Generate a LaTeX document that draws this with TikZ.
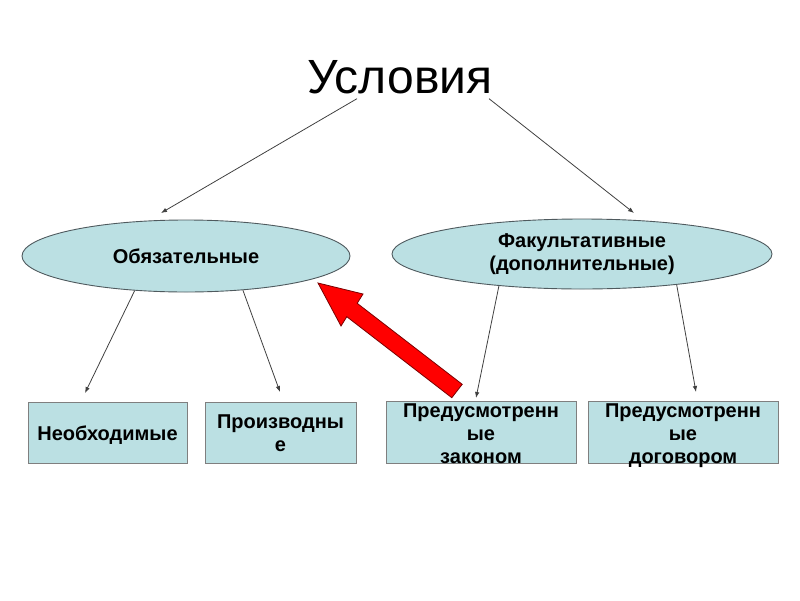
\documentclass[tikz,border=0pt]{standalone}
\usepackage{fontspec}
\setmainfont{Liberation Sans}
\usetikzlibrary{shapes.geometric,arrows.meta,calc}
\definecolor{fillblue}{HTML}{BBE0E3}
\definecolor{edgegray}{HTML}{4F5A5E}
\definecolor{boxgray}{HTML}{7F7F7F}
\definecolor{connc}{HTML}{404040}
\definecolor{arrred}{HTML}{FF0000}
\definecolor{arrdark}{HTML}{7A0000}
\begin{document}
\begin{tikzpicture}[x=1pt,y=-1pt,
  ell/.style={ellipse,draw=edgegray,fill=fillblue,line width=0.9pt,inner sep=0pt,align=center,
    font=\bfseries\fontsize{20}{23}\selectfont},
  boxr/.style={rectangle,draw=boxgray,fill=fillblue,line width=0.9pt,inner sep=0pt},
  boxtxt/.style={inner sep=0pt,align=center,font=\bfseries\fontsize{20}{23}\selectfont},
  conn/.style={draw=connc,line width=0.8pt,-{Latex[length=6pt,width=4.5pt]}},
  bigarrow/.style={fill=arrred,draw=arrdark,line width=0.8pt,line join=miter}
]
\useasboundingbox (0,0) rectangle (800,600);

% title
\node[anchor=base,inner sep=0pt,font=\fontsize{48}{52}\selectfont] (title) at (400,93) {Условия};

% ellipses
\node[ell,minimum width=328pt,minimum height=72pt] (obl) at (186,256) {Обязательные};
\node[ell,minimum width=380pt,minimum height=70pt] (fak) at (582,254) {Факультативные\\(дополнительные)};

% boxes
\node[boxr,minimum width=159pt,minimum height=61pt] (b1) at (107.5,432.5) {};
\node[boxtxt] (b1t) at ($(b1.center)+(0,3.5)$) {\strut Необходимые};
\node[boxr,minimum width=151pt,minimum height=61pt] (b2) at (280.5,432.5) {};
\node[boxtxt] (b2t) at ($(b2.center)+(0,3)$) {\strut Производны\\е\strut};
\node[boxr,minimum width=190pt,minimum height=62pt] (b3) at (481,432) {};
\node[boxtxt] (b3t) at ($(b3.center)+(0,3.5)$) {\strut Предусмотренн\\ые\\законом\strut};
\node[boxr,minimum width=190pt,minimum height=62pt] (b4) at (683,432) {};
\node[boxtxt] (b4t) at ($(b4.center)+(0,3.5)$) {\strut Предусмотренн\\ые\\договором\strut};

% free ends of connectors
\coordinate (te1) at (161,213);
\coordinate (te2) at (634,213);
\coordinate (c1) at (85,393);
\coordinate (c2) at (280,392);
\coordinate (c3) at (476,398);
\coordinate (c4) at (696,392);

% connectors
\draw[conn] ($(title.south)+(-43,5)$) -- (te1);
\draw[conn] ($(title.south)+(89,5)$) -- (te2);
\draw[conn] (obl.214) -- (c1);
\draw[conn] (obl.329.4) -- (c2);
\draw[conn] (fak.201.4) -- (c3);
\draw[conn] (fak.342.3) -- (c4);

% red block arrow
\draw[bigarrow] (318,283) -- (363,294) -- (357.2,303.3) -- (462.2,384.3) -- (451.8,397.7)
  -- (346.8,316.7) -- (341,326) -- cycle;
\end{tikzpicture}
\end{document}
